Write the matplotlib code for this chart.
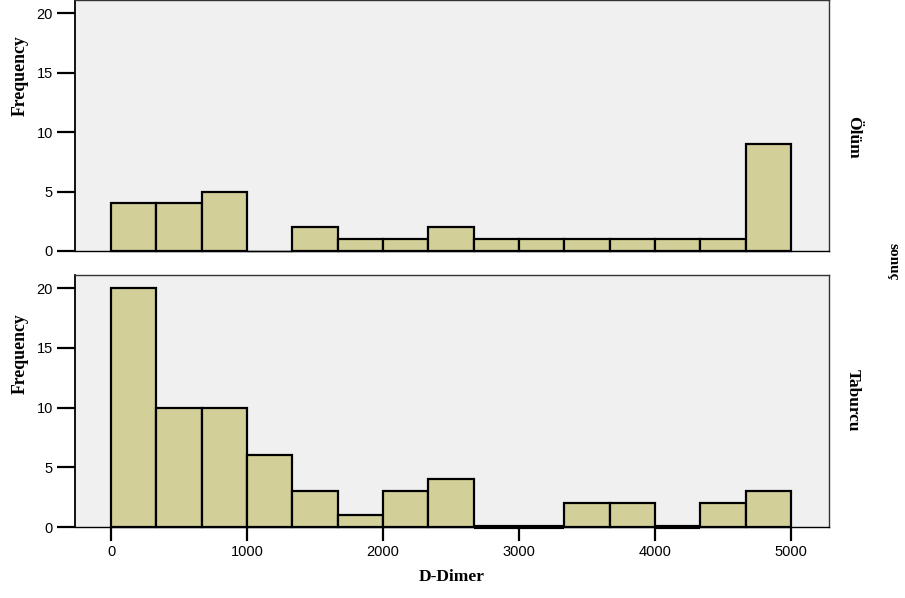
import numpy as np
import matplotlib.pyplot as plt

# D-Dimer histogram, split by outcome (sonuç)
bin_edges = np.linspace(0, 5000, 16)
olum_counts = [4, 4, 5, 0, 2, 1, 1, 2, 1, 1, 1, 1, 1, 1, 9]
taburcu_counts = [20, 10, 10, 6, 3, 1, 3, 4, 0, 0, 2, 2, 0, 2, 3]
panel_names = ['Ölüm', 'Taburcu']
x_ticks = [0, 1000, 2000, 3000, 4000, 5000]
y_ticks = [0, 5, 10, 15, 20]

bar_color = '#d3cf99'
bg = '#f0f0f0'
serif = 'Liberation Serif'
sans = 'Liberation Sans'

fig = plt.figure(figsize=(9.05, 5.98), dpi=100)
ax_top = fig.add_axes([0.0829, 0.5803, 0.8332, 0.4197])
ax_bot = fig.add_axes([0.0829, 0.1187, 0.8332, 0.4214])

widths = np.diff(bin_edges)
# (axes, counts, name, ylabel y-pos, name y-pos, edge width of empty bins)
panels = [(ax_top, olum_counts, panel_names[0], 0.70, 0.454, 1.0),
          (ax_bot, taburcu_counts, panel_names[1], 0.69, 0.505, 3.0)]
for ax, counts, name, ylab_pos, name_pos, empty_lw in panels:
    ax.set_facecolor(bg)
    lws = [1.6 if c > 0 else empty_lw for c in counts]
    ax.bar(bin_edges[:-1], counts, width=widths, align='edge',
           color=bar_color, edgecolor='black', linewidth=lws,
           zorder=3, clip_on=False)
    ax.set_xlim(-265, 5280)
    ax.set_ylim(0, 21.1)
    ax.set_yticks(y_ticks)
    ax.tick_params(axis='y', length=13, width=1.6, labelsize=10.5, pad=3)
    for lab in ax.get_yticklabels():
        lab.set_fontfamily(sans)
    ax.spines['left'].set_linewidth(1.3)
    ax.spines['bottom'].set_linewidth(1.0)
    for s in ['top', 'right']:
        ax.spines[s].set_linewidth(1.0)
        ax.spines[s].set_color('#333333')
    ax.set_ylabel('Frequency', fontfamily=serif, fontweight='bold', fontsize=12.8)
    ax.yaxis.set_label_coords(-0.0615, ylab_pos)
    ax.text(1.021, name_pos, name, transform=ax.transAxes, rotation=270,
            ha='left', va='center', fontfamily=serif, fontweight='bold', fontsize=12.5)

ax_top.set_xticks([])
ax_bot.set_xticks(x_ticks)
ax_bot.tick_params(axis='x', length=10, width=1.6, labelsize=10.5, pad=3)
for lab in ax_bot.get_xticklabels():
    lab.set_fontfamily(sans)
ax_bot.set_xlabel('D-Dimer', fontfamily=serif, fontweight='bold', fontsize=12.5, labelpad=7)

fig.text(0.987, 0.563, 'sonuç', rotation=270, ha='center', va='center',
         fontfamily=serif, fontweight='bold', fontsize=11)

fig.savefig('out.png', dpi=100)
